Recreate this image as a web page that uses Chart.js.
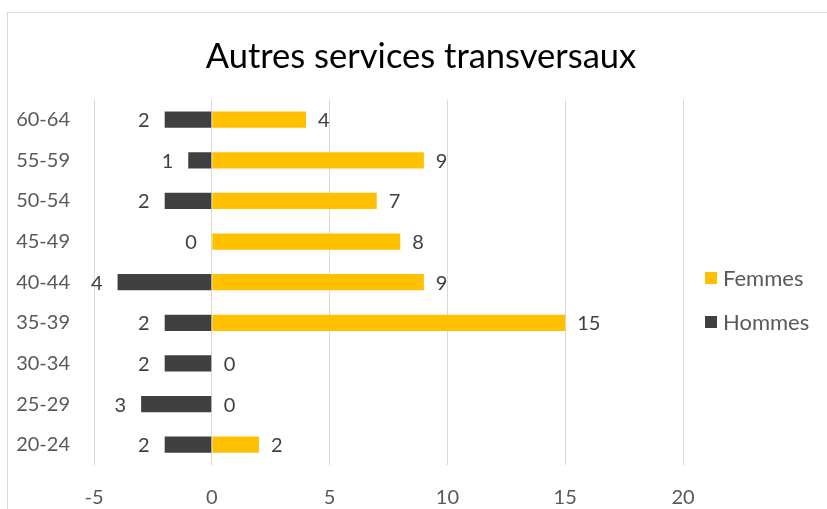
<!DOCTYPE html>
<html>
<head>
<meta charset="utf-8">
<script src="https://cdn.jsdelivr.net/npm/chart.js@4/dist/chart.umd.min.js"></script>
<style>
html,body{margin:0;padding:0;background:#fff;}
#wrap{width:827px;height:509px;position:relative;}
</style>
</head>
<body>
<div id="wrap"><canvas id="c" width="827" height="509"></canvas></div>
<script>
const categories = ['60-64','55-59','50-54','45-49','40-44','35-39','30-34','25-29','20-24'];
const hommes = [2,1,2,0,4,2,2,3,2];
const femmes = [4,9,7,8,9,15,0,0,2];
const xTicks = [-5,0,5,10,15,20];
const colors = {Femmes:'#FFC000', Hommes:'#404040'};
const FONT = 'Lato';

const framePlugin = {
  id:'frame',
  beforeDraw(chart){
    const ctx = chart.ctx;
    ctx.save();
    ctx.fillStyle = '#fff';
    ctx.fillRect(0,0,chart.width,chart.height);
    ctx.strokeStyle = '#d9d9d9';
    ctx.lineWidth = 1;
    ctx.strokeRect(7.5,12.5,900,600);
    ctx.restore();
  }
};

const labelPlugin = {
  id:'vals',
  afterDatasetsDraw(chart){
    const ctx = chart.ctx;
    const xs = chart.scales.x, ys = chart.scales.y;
    ctx.save();
    ctx.font = '20px ' + FONT;
    ctx.fillStyle = '#404040';
    ctx.textBaseline = 'middle';
    chart.data.datasets.forEach((ds) => {
      const raw = ds.label === 'Hommes' ? hommes : femmes;
      ds.data.forEach((v, i) => {
        const y = ys.getPixelForValue(i);
        const x = xs.getPixelForValue(v);
        if (ds.label === 'Hommes') {
          ctx.textAlign = 'right';
          ctx.fillText(String(raw[i]), x - 15, y + 1);
        } else {
          ctx.textAlign = 'left';
          ctx.fillText(String(raw[i]), x + 12, y + 1);
        }
      });
    });
    ctx.restore();
  }
};

const legendPlugin = {
  id:'customLegend',
  afterDraw(chart){
    const ctx = chart.ctx;
    ctx.save();
    ctx.font = '22px ' + FONT;
    ctx.textBaseline = 'middle';
    ctx.textAlign = 'left';
    const x0 = chart.chartArea.right + 22;
    const yStart = 278, gap = 44;
    chart.data.datasets.forEach((ds, i) => {
      const y = yStart + i*gap;
      ctx.fillStyle = ds.backgroundColor;
      ctx.fillRect(x0, y-6, 12, 12);
      ctx.fillStyle = '#595959';
      ctx.fillText(ds.label, x0 + 18, y + 1);
    });
    ctx.restore();
  }
};

new Chart(document.getElementById('c'), {
  type:'bar',
  data:{
    labels: categories,
    datasets:[
      {label:'Femmes', data: femmes.slice(), backgroundColor: colors.Femmes, barPercentage:0.4, categoryPercentage:1.0},
      {label:'Hommes', data: hommes.map(v => -v), backgroundColor: colors.Hommes, barPercentage:0.4, categoryPercentage:1.0}
    ]
  },
  options:{
    indexAxis:'y',
    responsive:false,
    animation:false,
    layout:{padding:{left:15,right:0,top:0,bottom:0}},
    plugins:{
      legend:{display:false},
      tooltip:{enabled:false},
      title:{
        display:true,
        text:'Autres services transversaux',
        color:'#000',
        font:{family:FONT, size:34.5, weight:'normal'},
        padding:{top:36, bottom:22}
      }
    },
    scales:{
      x:{
        stacked:true,
        min: xTicks[0], max: xTicks[xTicks.length-1],
        afterBuildTicks(axis){ axis.ticks = xTicks.map(v => ({value:v})); },
        afterFit(axis){ axis.height = 44; },
        grid:{color:'#d9d9d9', lineWidth:1, drawTicks:false},
        border:{display:false},
        ticks:{color:'#595959', font:{family:FONT, size:20}, padding:21, callback:(v)=>String(v)}
      },
      y:{
        stacked:true,
        afterFit(axis){ axis.width = 79; },
        grid:{display:false, drawTicks:false},
        border:{display:false},
        ticks:{color:'#595959', font:{family:FONT, size:20}, padding:24}
      },
      y2:{
        type:'category',
        labels: categories,
        position:'right',
        afterFit(axis){ axis.width = 144; },
        grid:{display:false, drawTicks:false},
        border:{display:false},
        ticks:{display:false}
      }
    }
  },
  plugins:[framePlugin, labelPlugin, legendPlugin]
});
</script>
</body>
</html>
